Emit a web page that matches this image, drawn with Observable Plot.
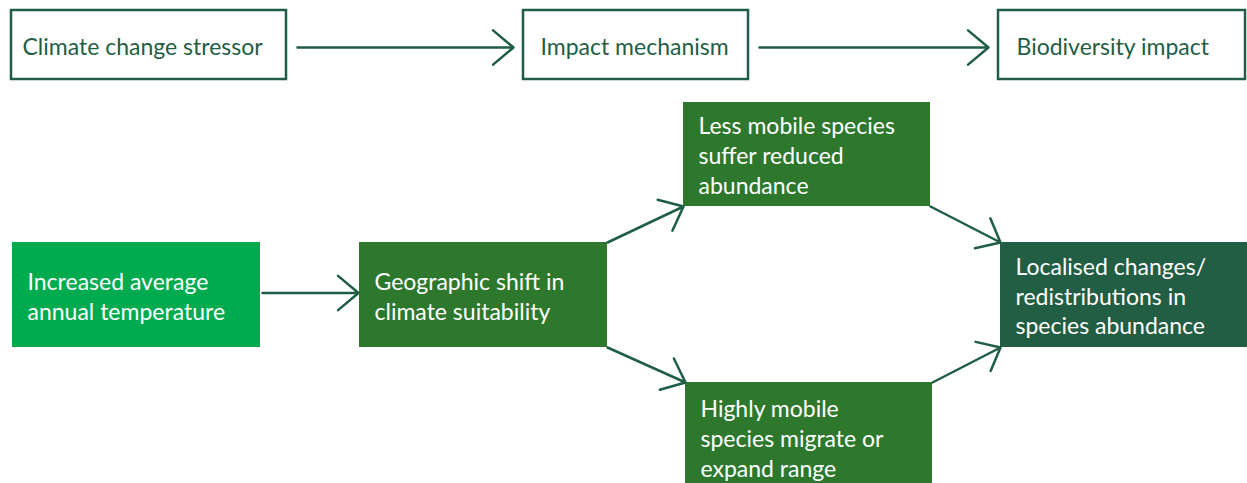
<!DOCTYPE html>
<html>
<head>
<meta charset="utf-8">
<script src="https://cdn.jsdelivr.net/npm/d3@7"></script>
<script src="https://cdn.jsdelivr.net/npm/@observablehq/plot@0.6"></script>
<style>
  html, body { margin: 0; padding: 0; background: #fff; }
  #chart svg { display: block; }
</style>
</head>
<body>
<div id="chart"></div>
<script>
// ---- Data ----
const stageLabels = ["Climate change stressor", "Impact mechanism", "Biodiversity impact"];
const nodeIds = ["temp", "shift", "less", "high", "local"];
const nodeLabels = [
  "Increased average\nannual temperature",
  "Geographic shift in\nclimate suitability",
  "Less mobile species\nsuffer reduced\nabundance",
  "Highly mobile\nspecies migrate or\nexpand range",
  "Localised changes/\nredistributions in\nspecies abundance"
];
const nodeStages = ["stressor", "mechanism", "mechanism", "mechanism", "impact"];
const linkSources = ["temp", "shift", "shift", "less", "high"];
const linkTargets = ["shift", "less", "high", "local", "local"];

// ---- Layout (styles/positions, kept apart from data) ----
const W = 1247, H = 483;
const stageColors = {stressor: "#00ab4f", mechanism: "#2e782e", impact: "#215e44"};
const ink = "#1f5e44";
const headerBox = {x1: [11, 523, 998], x2: [286, 748, 1245], y1: 10, y2: 79, pad: [11, 17, 18], mid: 47};
const nodeBox = {
  temp:  [12, 260, 242, 347],
  shift: [359, 607, 242, 347],
  less:  [683, 930, 102, 206],
  high:  [685, 932, 382, 492],
  local: [1000, 1247, 242, 347]
};
const textPad = 15;

const headers = stageLabels.map((label, i) => ({
  label, x1: headerBox.x1[i], x2: headerBox.x2[i], y1: headerBox.y1, y2: headerBox.y2,
  tx: headerBox.x1[i] + headerBox.pad[i], ty: headerBox.mid
}));
const headerLinks = d3.pairs(headers).map(([a, b]) => ({
  x1: a.x2 + 11, y1: a.ty, x2: b.x1 - 10, y2: b.ty
}));

const nodes = nodeIds.map((id, i) => {
  const [x1, x2, y1, y2] = nodeBox[id];
  return {id, label: nodeLabels[i], stage: nodeStages[i], x1, x2, y1, y2,
          tx: x1 + textPad, ty: (y1 + y2) / 2};
});
const byId = Object.fromEntries(nodes.map(n => [n.id, n]));
const links = linkSources.map((s, i) => {
  const a = byId[s], b = byId[linkTargets[i]];
  const am = (a.y1 + a.y2) / 2, bm = (b.y1 + b.y2) / 2;
  if (Math.abs(am - bm) < 1) return {x1: a.x2 + 2, y1: am - 2, x2: b.x1 - 1, y2: bm - 2};
  if (bm < am) { // target above
    if (a.y1 > b.y2) return {x1: a.x2, y1: a.y1, x2: b.x1, y2: b.y2};
    return {x1: a.x2, y1: a.y1, x2: b.x1 - 2, y2: b.y2 - 2};
  } else {
    if (b.y1 > a.y2) return {x1: a.x2, y1: a.y2, x2: b.x1, y2: b.y1};
    return {x1: a.x2, y1: a.y2 + 1, x2: b.x1 - 2, y2: b.y1 + 1};
  }
});

const font = "Lato, 'Noto Sans', sans-serif";

const chart = Plot.plot({
  width: W, height: H,
  margin: 0,
  style: {fontFamily: font, background: "#fff"},
  x: {domain: [0, W], axis: null},
  y: {domain: [0, H], reverse: true, axis: null},
  marks: [
    Plot.rect(headers, {x1: "x1", x2: "x2", y1: "y1", y2: "y2", fill: "white", stroke: ink, strokeWidth: 2.5}),
    Plot.text(headers, {x: "tx", y: "ty", text: "label", textAnchor: "start", fill: ink, fontSize: 23}),
    Plot.arrow(headerLinks, {x1: "x1", y1: "y1", x2: "x2", y2: "y2", stroke: ink, strokeWidth: 2.5, headLength: 16, headAngle: 80}),
    Plot.rect(nodes, {x1: "x1", x2: "x2", y1: "y1", y2: "y2", fill: d => stageColors[d.stage]}),
    Plot.text(nodes, {x: "tx", y: "ty", text: "label", textAnchor: "start", lineAnchor: "middle", lineHeight: 1.3, fill: "white", fontSize: 23}),
    Plot.arrow(links, {x1: "x1", y1: "y1", x2: "x2", y2: "y2", stroke: ink, strokeWidth: 2.5, headLength: 16, headAngle: 80})
  ]
});
document.getElementById("chart").append(chart);
</script>
</body>
</html>
